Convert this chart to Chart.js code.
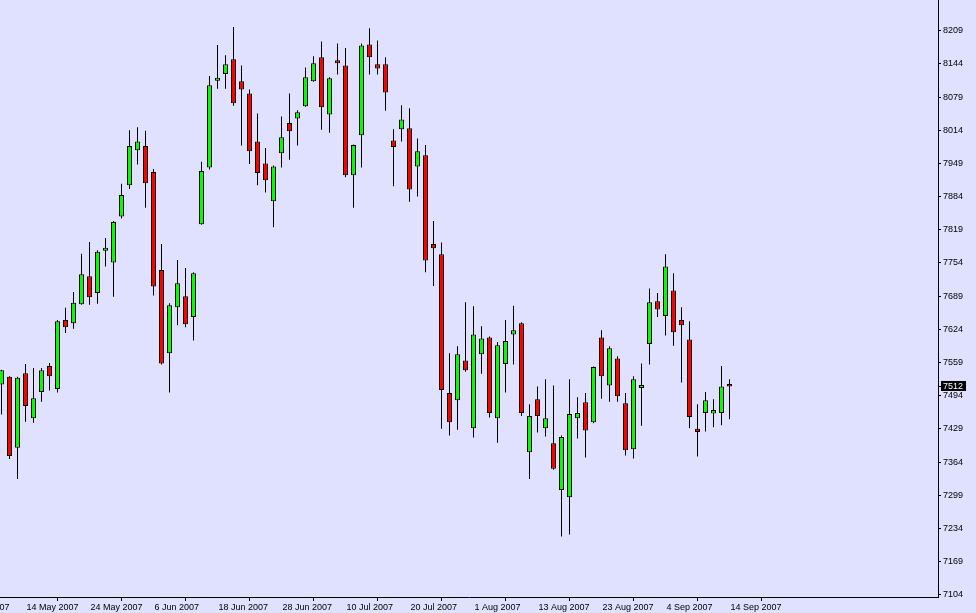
<!DOCTYPE html>
<html>
<head>
<meta charset="utf-8">
<title>Daily candles May - Sep 2007</title>
<script src="https://cdn.jsdelivr.net/npm/chart.js@4.4.1/dist/chart.umd.min.js"></script>
<style>
  html, body { margin: 0; padding: 0; background: #e0e0ff; }
  #wrap { width: 976px; height: 613px; }
</style>
</head>
<body>
<div id="wrap"><canvas id="chart" width="976" height="613"></canvas></div>
<script>
// one value per trading day, 9 May 2007 .. 14 Sep 2007
const opens = [7516, 7531, 7392, 7538, 7450, 7501, 7552, 7507, 7642, 7636,
  7673, 7728, 7695, 7778, 7755, 7845, 7906, 7975, 7983, 7932,
  7740, 7577, 7667, 7689, 7648, 7830, 7941, 8111, 8124, 8153,
  8110, 8086, 7992, 7949, 7875, 7969, 8028, 8037, 8061, 8110,
  8157, 8045, 8151, 8141, 7926, 8004, 8182, 8143, 8143, 7994,
  8016, 8018, 7943, 7965, 7791, 7771, 7499, 7485, 7563, 7430,
  7575, 7608, 7450, 7556, 7614, 7636, 7383, 7487, 7430, 7401,
  7309, 7295, 7450, 7481, 7442, 7608, 7514, 7567, 7479, 7389,
  7509, 7595, 7679, 7650, 7700, 7642, 7604, 7429, 7460, 7459,
  7460, 7517];
const highs = [7545, 7532, 7531, 7556, 7548, 7548, 7558, 7642, 7666, 7697,
  7772, 7795, 7779, 7803, 7836, 7909, 8014, 8020, 8013, 7938,
  7791, 7675, 7760, 7744, 7736, 7952, 8120, 8181, 8161, 8216,
  8141, 8094, 8047, 7979, 7945, 8041, 8086, 8053, 8137, 8159,
  8188, 8118, 8184, 8175, 7986, 8184, 8214, 8190, 8157, 8016,
  8063, 8057, 7998, 7985, 7836, 7794, 7577, 7591, 7677, 7669,
  7630, 7610, 7599, 7642, 7670, 7638, 7477, 7512, 7526, 7514,
  7416, 7526, 7491, 7499, 7551, 7622, 7591, 7571, 7499, 7532,
  7557, 7704, 7695, 7771, 7734, 7667, 7640, 7477, 7501, 7487,
  7552, 7526];
const lows = [7457, 7370, 7331, 7443, 7441, 7482, 7504, 7500, 7617, 7625,
  7672, 7672, 7674, 7747, 7688, 7841, 7899, 7947, 7862, 7690,
  7555, 7500, 7632, 7628, 7602, 7829, 7937, 8095, 8095, 8062,
  7984, 7948, 7906, 7892, 7824, 7941, 7956, 7984, 8060, 8109,
  8015, 8009, 8123, 7922, 7862, 7941, 8123, 8123, 8052, 7904,
  7992, 7874, 7884, 7736, 7709, 7429, 7416, 7427, 7541, 7412,
  7537, 7451, 7402, 7500, 7555, 7454, 7331, 7422, 7414, 7349,
  7218, 7222, 7410, 7373, 7440, 7488, 7482, 7482, 7377, 7371,
  7435, 7555, 7648, 7612, 7592, 7520, 7430, 7375, 7424, 7432,
  7436, 7448];
const closes = [7544, 7376, 7529, 7474, 7489, 7544, 7532, 7640, 7628, 7676,
  7732, 7687, 7776, 7784, 7834, 7887, 7983, 7992, 7910, 7708,
  7557, 7671, 7714, 7634, 7734, 7934, 8102, 8117, 8143, 8067,
  8094, 7973, 7930, 7916, 7943, 8000, 8012, 8049, 8118, 8145,
  8059, 8116, 8145, 7926, 7985, 8180, 8157, 8135, 8088, 7981,
  8035, 7898, 7973, 7759, 7783, 7505, 7442, 7575, 7544, 7614,
  7606, 7460, 7593, 7601, 7622, 7460, 7454, 7454, 7450, 7351,
  7413, 7458, 7460, 7426, 7550, 7532, 7587, 7493, 7387, 7526,
  7515, 7677, 7663, 7747, 7618, 7632, 7452, 7423, 7485, 7466,
  7512, 7512];

// date labels, one every 8 bars; the first one falls left of the first bar
const tickDates = ["2 May 2007", "14 May 2007", "24 May 2007", "6 Jun 2007",
  "18 Jun 2007", "28 Jun 2007", "10 Jul 2007", "20 Jul 2007", "1 Aug 2007",
  "13 Aug 2007", "23 Aug 2007", "4 Sep 2007", "14 Sep 2007"];
const firstTickBar = -5;
const priceTicks = [7104, 7169, 7234, 7299, 7364, 7429, 7494, 7559, 7624,
  7689, 7754, 7819, 7884, 7949, 8014, 8079, 8144, 8209];

const lastClose = closes[closes.length - 1];

const bodies = opens.map((o, i) => ({ x: i, y: [o, closes[i]] }));
const wicks = lows.map((l, i) => ({ x: i, y: [l, highs[i]] }));
const bodyColors = opens.map((o, i) => closes[i] >= o ? '#00ff00' : '#ff0000');

Chart.defaults.font.family = "'Liberation Sans', Arial, sans-serif";
Chart.defaults.font.size = 9;
Chart.defaults.color = '#000';

const ctx = document.getElementById('chart').getContext('2d');
new Chart(ctx, {
  type: 'bar',
  data: {
    datasets: [
      {
        data: bodies,
        backgroundColor: bodyColors,
        borderColor: '#000',
        borderWidth: 1,
        borderSkipped: false,
        barThickness: 5,
        grouped: false,
        inflateAmount: 0,
        order: 0
      },
      {
        data: wicks,
        backgroundColor: '#000',
        borderWidth: 0,
        barThickness: 1,
        grouped: false,
        inflateAmount: 0,
        order: 1
      }
    ]
  },
  options: {
    responsive: false,
    animation: false,
    devicePixelRatio: 1,
    layout: { padding: 0 },
    plugins: {
      legend: { display: false },
      tooltip: { enabled: false }
    },
    scales: {
      x: {
        type: 'linear',
        min: -0.1875,
        max: 117.0625,
        offset: false,
        bounds: 'data',
        grid: { drawOnChartArea: false, drawTicks: true, tickLength: 4, color: '#000' },
        border: { display: true, color: '#000', width: 1 },
        ticks: {
          autoSkip: false,
          minRotation: 0,
          maxRotation: 0,
          align: 'start',
          labelOffset: 1,
          padding: 1,
          callback: (v, idx) => tickDates[idx]
        },
        afterBuildTicks: s => {
          s.ticks = tickDates.map((d, k) => ({ value: firstTickBar + 8 * k }));
        },
        afterFit: s => {
          s.height = 16;
          s.paddingLeft = 0;
          s.paddingRight = 0;
        }
      },
      y: {
        type: 'linear',
        position: 'right',
        min: 7099.6,
        max: 8269.1,
        bounds: 'data',
        grid: { drawOnChartArea: false, drawTicks: true, tickLength: 3, color: '#000' },
        border: { display: true, color: '#000', width: 1 },
        ticks: {
          autoSkip: false,
          padding: 2,
          font: { lineHeight: 1 },
          color: c => c.tick && c.tick.value === lastClose ? '#fff' : '#000',
          showLabelBackdrop: c => !!(c.tick && c.tick.value === lastClose),
          backdropColor: '#000',
          backdropPadding: { left: 2, right: 3, top: 1, bottom: 0 },
          callback: v => String(v)
        },
        afterBuildTicks: s => {
          s.ticks = priceTicks.concat([lastClose]).map(v => ({ value: v }));
        },
        afterFit: s => {
          s.width = 38;
          s.paddingTop = 0;
          s.paddingBottom = 0;
        }
      }
    }
  }
});
</script>
</body>
</html>
